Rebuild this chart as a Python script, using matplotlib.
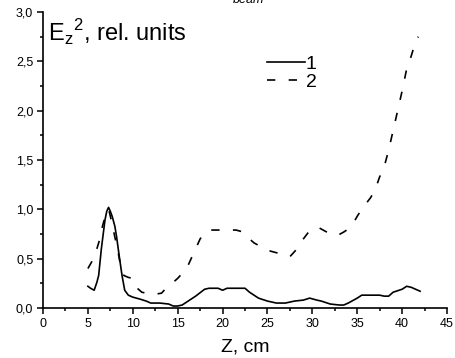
import matplotlib.pyplot as plt
from matplotlib.ticker import MultipleLocator, FuncFormatter

plt.rcParams['font.family'] = ['Liberation Sans', 'DejaVu Sans']

# curve 1 (solid)
z1 = [5.0, 5.3, 5.7, 6.0, 6.2, 6.5, 6.9, 7.1, 7.3, 7.5,
      7.7, 8.0, 8.2, 8.5, 8.8, 9.1, 9.5, 10.0, 10.8, 11.5,
      12.0, 13.0, 14.0, 14.5, 15.0, 15.5, 16.0, 17.0, 18.0, 18.5,
      19.5, 20.0, 20.5, 21.0, 22.0, 22.5, 23.0, 24.0, 25.0, 26.0,
      27.0, 28.0, 29.0, 29.7, 30.5, 31.0, 32.0, 33.0, 33.5, 34.0,
      35.0, 35.5, 36.5, 37.5, 38.0, 38.5, 39.0, 40.0, 40.5, 41.0,
      41.5, 42.0]
e1 = [0.22, 0.2, 0.18, 0.26, 0.33, 0.6, 0.89, 0.98, 1.02, 0.98,
      0.93, 0.83, 0.72, 0.52, 0.33, 0.18, 0.13, 0.11, 0.09, 0.07,
      0.05, 0.05, 0.04, 0.02, 0.02, 0.03, 0.06, 0.12, 0.19, 0.2,
      0.2, 0.18, 0.2, 0.2, 0.2, 0.2, 0.16, 0.1, 0.07, 0.05,
      0.05, 0.07, 0.08, 0.1, 0.08, 0.07, 0.04, 0.03, 0.03, 0.05,
      0.1, 0.13, 0.13, 0.13, 0.12, 0.12, 0.16, 0.19, 0.22, 0.21,
      0.19, 0.17]

# curve 2 (dashed)
z2 = [5.0, 5.5, 6.0, 6.3, 6.6, 6.9, 7.2, 7.4, 7.7, 8.0,
      8.3, 8.6, 9.0, 9.5, 10.0, 10.5, 11.0, 11.5, 12.0, 12.5,
      13.2, 13.6, 14.0, 15.0, 15.5, 16.1, 16.6, 17.0, 17.5, 18.0,
      18.5, 19.5, 20.5, 21.5, 22.3, 23.0, 23.5, 24.5, 25.2, 26.0,
      27.0, 27.5, 27.8, 28.5, 29.0, 29.5, 30.0, 30.6, 31.0, 31.6,
      32.2, 32.9, 33.5, 34.0, 34.5, 35.0, 35.5, 36.0, 36.5, 37.0,
      37.5, 38.0, 38.5, 39.0, 39.5, 40.0, 40.5, 41.0, 41.5, 41.8]
e2 = [0.4, 0.48, 0.6, 0.69, 0.82, 0.92, 1.0, 0.97, 0.85, 0.72,
      0.6, 0.45, 0.33, 0.31, 0.3, 0.2, 0.16, 0.15, 0.15, 0.14,
      0.15, 0.19, 0.22, 0.3, 0.35, 0.42, 0.52, 0.6, 0.7, 0.76,
      0.79, 0.79, 0.79, 0.79, 0.77, 0.7, 0.66, 0.61, 0.58, 0.56,
      0.54, 0.52, 0.55, 0.62, 0.7, 0.76, 0.8, 0.82, 0.8, 0.77,
      0.74, 0.74, 0.77, 0.8, 0.85, 0.93, 1.0, 1.06, 1.12, 1.2,
      1.33, 1.43, 1.6, 1.8, 2.0, 2.2, 2.42, 2.55, 2.7, 2.75]

fig = plt.figure(figsize=(4.56, 3.58), dpi=100)
ax = fig.add_axes([0.0943, 0.1397, 0.8860, 0.8268])

ax.plot(z1, e1, color='black', lw=1.2, label='1')
ax.plot(z2, e2, color='black', lw=1.2, linestyle=(0, (5, 8)), label='2')

ax.set_xlim(0, 45)
ax.set_ylim(0, 3.0)
ax.xaxis.set_major_locator(MultipleLocator(5))
ax.xaxis.set_minor_locator(MultipleLocator(2.5))
ax.yaxis.set_major_locator(MultipleLocator(0.5))
ax.yaxis.set_minor_locator(MultipleLocator(0.25))
ax.yaxis.set_major_formatter(FuncFormatter(lambda v, p: ('%.1f' % v).replace('.', ',')))

for s in ['top', 'right']:
    ax.spines[s].set_visible(False)
for s in ['left', 'bottom']:
    ax.spines[s].set_linewidth(1.2)

ax.tick_params(which='major', direction='out', length=4, width=1.1, labelsize=9, pad=3)
ax.tick_params(which='minor', direction='out', length=2, width=1.1)

ax.set_xlabel('Z, cm', fontsize=14, labelpad=6)
ax.text(0.012, 0.98, r'E$_\mathregular{z}$$^\mathregular{2}$, rel. units', transform=ax.transAxes,
        fontsize=17, va='top', ha='left')

ax.legend(loc='upper left', bbox_to_anchor=(0.53, 0.887), frameon=False, fontsize=14,
          handlelength=1.95, handletextpad=0.05, labelspacing=0.03, borderpad=0)

fig.text(0.545, 0.9916, 'beam', style='italic', fontsize=9, ha='center', va='baseline')

fig.savefig('out.png', dpi=100)
